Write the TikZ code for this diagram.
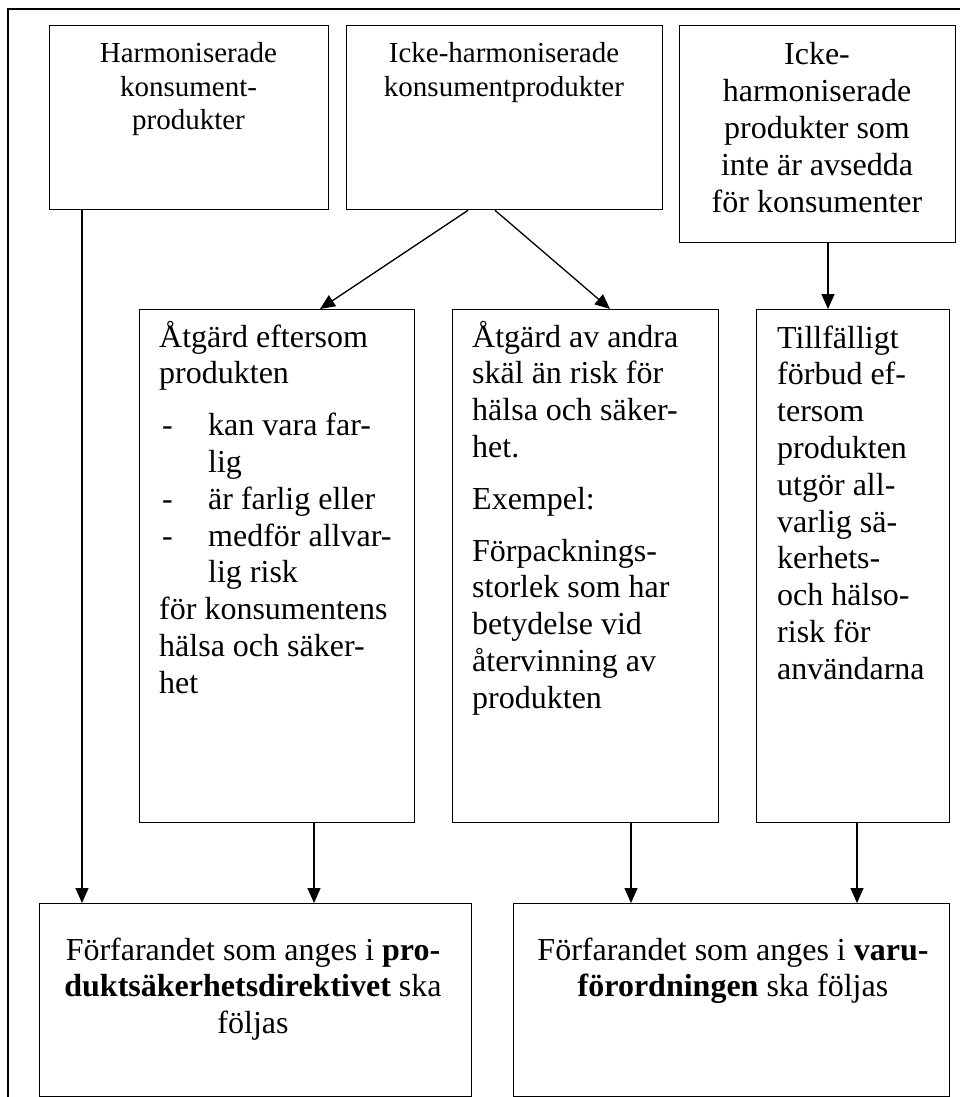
\documentclass[tikz,border=0pt]{standalone}
\usepackage{fontspec}
\setmainfont{Liberation Serif}
\usetikzlibrary{arrows.meta}
\newcommand\fontsm{\fontsize{29}{33.5}\selectfont}
\newcommand\fontlg{\fontsize{32}{36.8}\selectfont}
\tikzset{
  box/.style={draw, line width=1.3pt, rectangle, inner sep=0pt, anchor=north west},
  txt/.style={inner sep=0pt, anchor=base},
  txtl/.style={inner sep=0pt, anchor=base west},
  arr/.style={line width=1.3pt, -{Triangle[length=15pt,width=13pt]}},
  frame/.style={line width=2pt}
}
\begin{document}
\begin{tikzpicture}[x=1pt,y=-1pt]
\useasboundingbox (0,0) rectangle (960,1097);
\draw[frame] (8,1097) -- (8,9) -- (960,9);

% boxes
\node[box, minimum width=279pt, minimum height=184pt] (bA) at (49,25) {};
\node[box, minimum width=316pt, minimum height=184pt] (bB) at (346,25) {};
\node[box, minimum width=276pt, minimum height=217pt] (bC) at (679,25) {};
\node[box, minimum width=275pt, minimum height=513pt] (bD) at (139,309) {};
\node[box, minimum width=266pt, minimum height=513pt] (bE) at (452,309) {};
\node[box, minimum width=193pt, minimum height=513pt] (bF) at (756,309) {};
\node[box, minimum width=432pt, minimum height=193pt] (bG) at (39,903) {};
\node[box, minimum width=436pt, minimum height=193pt] (bH) at (513,903) {};

% texts
\node[txt, font=\fontsm] (tA) at (188.5,63) {\parbox[t]{270pt}{\centering Harmoniserade\\konsument-\\produkter}};
\node[txt, font=\fontsm] (tB) at (504,63) {\parbox[t]{300pt}{\centering Icke-harmoniserade\\konsumentprodukter}};
\node[txt, font=\fontlg] (tC) at (817,65) {\parbox[t]{270pt}{\centering Icke-\\harmoniserade\\produkter som\\inte är avsedda\\för konsumenter}};
\node[txtl, font=\fontlg] (tD) at (159,347) {\parbox[t]{300pt}{\raggedright
Åtgärd eftersom\\
produkten\\[15pt]
\hspace*{3pt}\makebox[46pt][l]{-}kan vara far-\\
\hspace*{49pt}lig\\
\hspace*{3pt}\makebox[46pt][l]{-}är farlig eller\\
\hspace*{3pt}\makebox[46pt][l]{-}medför allvar-\\
\hspace*{49pt}lig risk\\
för konsumentens\\
hälsa och säker-\\
het}};
\node[txtl, font=\fontlg] (tE) at (472,347) {\parbox[t]{300pt}{\raggedright
Åtgärd av andra\\
skäl än risk för\\
hälsa och säker-\\
het.\\[15pt]
Exempel:\\[15pt]
Förpacknings-\\
storlek som har\\
betydelse vid\\
återvinning av\\
produkten}};
\node[txtl, font=\fontlg] (tF) at (777,348) {\parbox[t]{200pt}{\raggedright
Tillfälligt\\
förbud ef-\\
tersom\\
produkten\\
utgör all-\\
varlig sä-\\
kerhets-\\
och hälso-\\
risk för\\
användarna}};
\node[txt, font=\fontlg] (tG) at (253,960) {\parbox[t]{420pt}{\centering Förfarandet som anges i \textbf{pro-}\\\textbf{duktsäkerhetsdirektivet} ska\\följas}};
\node[txt, font=\fontlg] (tH) at (733,960) {\parbox[t]{430pt}{\centering Förfarandet som anges i \textbf{varu-}\\\textbf{förordningen} ska följas}};

% connectors
\draw[arr] ([xshift=33pt]bA.south west) -- ([xshift=43pt]bG.north west);
\draw[arr] ([xshift=122pt]bB.south west) -- ([xshift=181pt]bD.north west);
\draw[arr] ([xshift=149pt]bB.south west) -- ([xshift=158pt]bE.north west);
\draw[arr] ([xshift=149pt]bC.south west) -- ([xshift=72pt]bF.north west);
\draw[arr] ([xshift=175pt]bD.south west) -- ([xshift=275pt]bG.north west);
\draw[arr] ([xshift=179pt]bE.south west) -- ([xshift=118pt]bH.north west);
\draw[arr] ([xshift=101pt]bF.south west) -- ([xshift=344pt]bH.north west);
\end{tikzpicture}
\end{document}
